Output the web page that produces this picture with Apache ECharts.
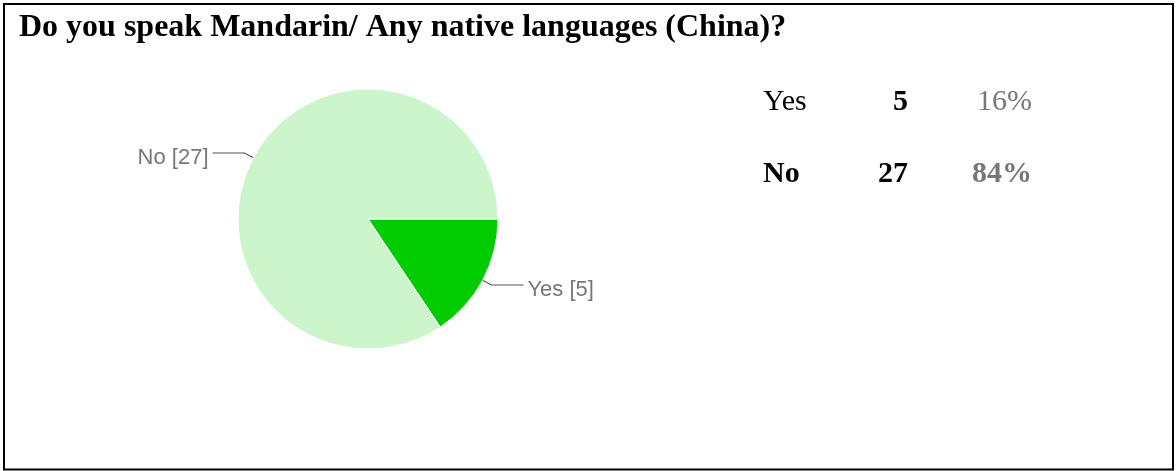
<!DOCTYPE html>
<html>
<head>
<meta charset="utf-8">
<script src="https://cdn.jsdelivr.net/npm/echarts@6/dist/echarts.min.js"></script>
<style>
html,body{margin:0;padding:0;background:#fff;}
#c{width:1176px;height:471px;}
</style>
</head>
<body>
<div id="c"></div>
<script>
const titleText = 'Do you speak Mandarin/ Any native languages (China)?';
const categories = ['Yes', 'No'];
const counts = [5, 27];
const percents = ['16%', '84%'];
const colors = ['#00cc00', '#ccf5cc'];

const chart = echarts.init(document.getElementById('c'), null, {renderer: 'canvas'});

const serif = '"Liberation Serif", "Times New Roman", serif';
const rowY = [102, 174];
const tableGraphics = [];
categories.forEach((c, i) => {
  const bold = i === 1;
  tableGraphics.push({
    type: 'text', x: 763, y: rowY[i],
    style: {text: c, font: (bold ? 'bold ' : '') + '30px ' + serif, fill: '#000', verticalAlign: 'middle'}
  });
  tableGraphics.push({
    type: 'text', x: 908, y: rowY[i],
    style: {text: String(counts[i]), font: 'bold 30px ' + serif, fill: '#000', align: 'right', verticalAlign: 'middle'}
  });
  tableGraphics.push({
    type: 'text', x: 1032, y: rowY[i],
    style: {text: percents[i], font: (bold ? 'bold ' : '') + '30px ' + serif, fill: '#777', align: 'right', verticalAlign: 'middle'}
  });
});

chart.setOption({
  animation: false,
  backgroundColor: '#fff',
  graphic: [
    {type: 'rect', shape: {x: 4, y: 4, width: 1169, height: 465.5}, style: {fill: 'none', stroke: '#000', lineWidth: 2}, z: 10},
    {type: 'text', x: 19, y: 28, style: {text: titleText, font: 'bold 32px ' + serif, fill: '#000', verticalAlign: 'middle'}}
  ].concat(tableGraphics),
  series: [{
    type: 'pie',
    center: [368, 219],
    radius: 130,
    startAngle: 0,
    clockwise: true,
    avoidLabelOverlap: false,
    itemStyle: {borderColor: '#fff', borderWidth: 1},
    label: {
      show: true,
      position: 'outside',
      formatter: p => '{s|}{t|' + p.name + ' [' + p.value + ']}',
      distanceToLabelLine: 4,
      rich: {
        s: {lineHeight: 32, width: 0, fontSize: 22},
        t: {fontFamily: 'Arial, "Liberation Sans", sans-serif', fontSize: 22, lineHeight: 24, color: '#777', verticalAlign: 'bottom'}
      }
    },
    labelLine: {show: true, length: 10, length2: 32, lineStyle: {color: '#555', width: 1.2}},
    emphasis: {disabled: true},
    data: categories.map((c, i) => ({name: c, value: counts[i], itemStyle: {color: colors[i]}}))
  }]
});
</script>
</body>
</html>
